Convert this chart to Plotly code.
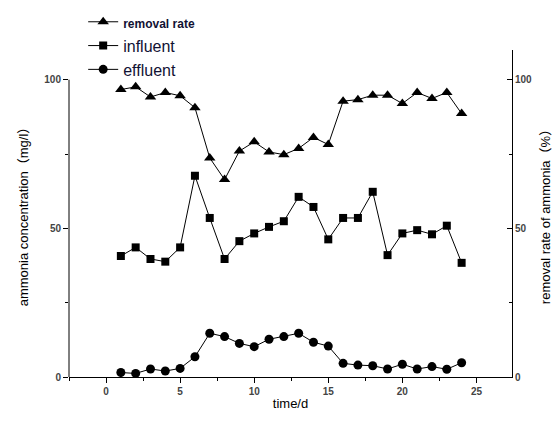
import plotly.graph_objects as go

days = list(range(1, 25))
removal_rate = [96.7, 97.6, 94.2, 95.7, 94.6, 90.6, 73.7, 66.4, 76.0, 79.1, 75.7, 74.8,
                76.9, 80.6, 78.2, 92.8, 93.3, 94.8, 94.8, 92.0, 95.7, 93.7, 95.7, 88.6]
influent = [40.7, 43.6, 39.7, 38.8, 43.6, 67.7, 53.5, 39.7, 45.7, 48.3, 50.5, 52.4,
            60.6, 57.2, 46.3, 53.5, 53.5, 62.3, 41.0, 48.3, 49.4, 48.0, 50.9, 38.4]
effluent = [1.5, 1.2, 2.7, 2.0, 2.9, 6.8, 14.7, 13.6, 11.3, 10.2, 12.7, 13.6,
            14.7, 11.7, 10.4, 4.6, 4.0, 3.8, 2.7, 4.3, 2.7, 3.5, 2.6, 4.8]

x_ticks = [0, 5, 10, 15, 20, 25]
y_ticks = [0, 50, 100]

font_family = "Arial, Liberation Sans, Noto Sans CJK SC, sans-serif"
tick_font = dict(family=font_family, size=10, color="#444444", weight="bold")

fig = go.Figure()
fig.add_trace(go.Scatter(
    x=days, y=removal_rate, mode="lines+markers", yaxis="y2",
    name='<span style="font-size:12px"><b>removal rate</b></span>',
    line=dict(color="black", width=1),
    marker=dict(symbol="triangle-up", size=10, color="black")))
fig.add_trace(go.Scatter(
    x=days, y=influent, mode="lines+markers", name="influent",
    line=dict(color="black", width=1),
    marker=dict(symbol="square", size=8, color="black")))
fig.add_trace(go.Scatter(
    x=days, y=effluent, mode="lines+markers", name="effluent",
    line=dict(color="black", width=1),
    marker=dict(symbol="circle", size=9, color="black")))

# page has an 8px body margin, so the figure is sized to fit the window
fig.update_layout(
    width=552, height=415,
    margin=dict(l=61, r=48, t=42, b=46, autoexpand=False),
    paper_bgcolor="white", plot_bgcolor="white",
    font=dict(family=font_family, color="black"),
    showlegend=True,
    legend=dict(x=0.032, y=1.138, xanchor="left", yanchor="top",
                font=dict(size=16, family=font_family, color="#111133"),
                bgcolor="rgba(0,0,0,0)", tracegroupgap=0, itemwidth=30),
    xaxis=dict(range=[-2.5, 27.4], tickvals=x_ticks, ticks="outside", ticklen=5,
               tickcolor="black", showline=True, linecolor="black", linewidth=1,
               showgrid=False, zeroline=False, tickfont=tick_font,
               minor=dict(dtick=2.5, tick0=0, ticks="outside", ticklen=3, tickcolor="black"),
               title=dict(text="time/d", font=dict(size=13, family=font_family), standoff=2)),
    yaxis=dict(range=[0, 110], tickvals=y_ticks, ticks="outside", ticklen=5,
               tickcolor="black", showline=False, showgrid=False, zeroline=False,
               tickfont=tick_font,
               minor=dict(dtick=25, tick0=0, ticks="outside", ticklen=3, tickcolor="black"),
               title=dict(text="ammonia concentration（mg/l）",
                          font=dict(size=13, family=font_family), standoff=12)),
    yaxis2=dict(range=[0, 110], tickvals=y_ticks, ticks="inside", ticklen=5,
                tickcolor="black", showline=True, linecolor="black", linewidth=1,
                overlaying="y", side="right", showgrid=False, zeroline=False,
                tickfont=tick_font,
                minor=dict(dtick=25, tick0=0, ticks="inside", ticklen=3, tickcolor="black"),
                title=dict(text="removal rate of ammonia（%）",
                           font=dict(size=13, family=font_family), standoff=9)),
    shapes=[dict(type="line", xref="paper", yref="y", x0=0, x1=0, y0=0, y1=100,
                 line=dict(color="black", width=1))],
)

fig.write_html("out.html")
